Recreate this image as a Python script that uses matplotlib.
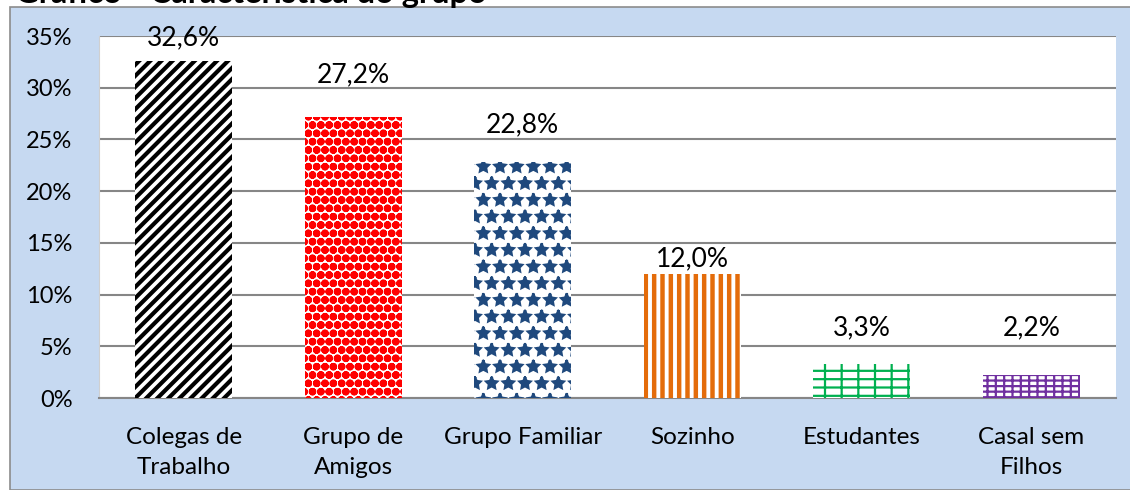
import matplotlib
matplotlib.use("Agg")
import matplotlib.pyplot as plt
from matplotlib.patches import Rectangle
from matplotlib.ticker import FuncFormatter, MultipleLocator

# dados do gráfico
categorias = ["Colegas de\nTrabalho", "Grupo de\nAmigos", "Grupo Familiar",
              "Sozinho", "Estudantes", "Casal sem\nFilhos"]
valores = [32.6, 27.2, 22.8, 12.0, 3.3, 2.2]
rotulos = ["32,6%", "27,2%", "22,8%", "12,0%", "3,3%", "2,2%"]

# estilo de cada barra (padrões do Excel aproximados com hatch)
cores_hatch = ["black", "#ff0000", "#1f497d", "#e46c0a", "#00b050", "#7030a0"]
fundos = ["white", "white", "white", "white", "white", "white"]
hatches = ["///", "oo", "*", "||", "--|", "++-"]
larg_hatch = [3.0, 3.0, 1.8, 3.2, 1.6, 1.6]
# altura dos rótulos (posicionados à mão no original)
rotulo_y = [34.8, 31.2, 26.4, 13.5, 6.8, 6.8]

plt.rcParams['font.family'] = ['Lato', 'DejaVu Sans']

fig = plt.figure(figsize=(11.3, 4.9), dpi=100)
W, H = 1130, 490

# moldura azul do gráfico
fig.patches.append(Rectangle((10 / W, 0), 1.2, (H - 7.5) / H, transform=fig.transFigure,
                             facecolor="#c6d9f1", edgecolor="#8c8c8c", linewidth=1.2,
                             zorder=-10))
fig.text(15 / W, 1 - 3 / H, "Gráfico - Característica do grupo", fontsize=23.5,
         fontweight="bold", va="baseline", ha="left")

ax = fig.add_axes([99 / W, (H - 398) / H, (1116 - 99) / W, (398 - 36) / H])
ax.set_facecolor("white")

x = range(len(valores))
for i in x:
    with plt.rc_context({'hatch.linewidth': larg_hatch[i], 'hatch.color': cores_hatch[i]}):
        b = ax.bar(i, valores[i], width=0.57, color=fundos[i], edgecolor=cores_hatch[i],
                   linewidth=0, hatch=hatches[i], zorder=3)
        for p in b:
            if hasattr(p, "set_hatch_linewidth"):
                p.set_hatch_linewidth(larg_hatch[i])
    ax.text(i, rotulo_y[i], rotulos[i], ha="center", va="center", fontsize=19, zorder=4)

ax.set_xlim(-0.5, len(valores) - 0.5)
ax.set_ylim(0, 35)
ax.yaxis.set_major_locator(MultipleLocator(5))
ax.yaxis.set_major_formatter(FuncFormatter(lambda v, p: f"{v:.0f}%"))
ax.set_xticks(list(x))
ax.set_xticklabels(categorias, linespacing=1.5, fontsize=17.5)
ax.tick_params(axis="both", length=0)
ax.tick_params(axis="y", labelsize=17, pad=19)
ax.tick_params(axis="x", pad=21)
ax.grid(axis="y", color="#868686", linewidth=1.5, zorder=0)
ax.set_axisbelow(True)
for s in ["top", "right"]:
    ax.spines[s].set_visible(False)
ax.spines["left"].set_color("#d0d0d0")
ax.spines["bottom"].set_color("#868686")
ax.spines["bottom"].set_linewidth(1.5)

fig.savefig("out.png", dpi=100)
